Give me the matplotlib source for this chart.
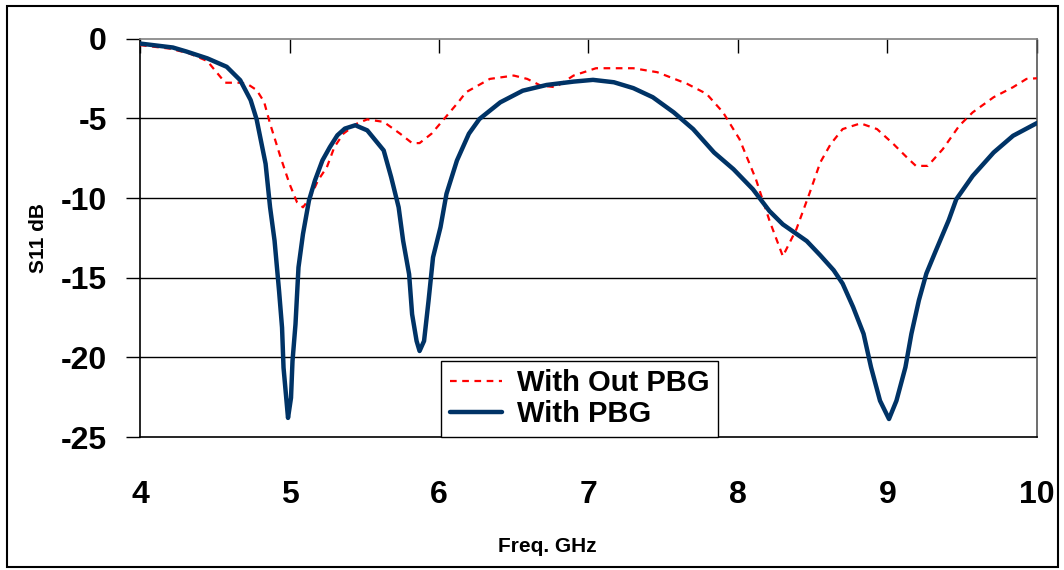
import matplotlib.pyplot as plt
from matplotlib.patches import Rectangle

plt.rcParams['font.family'] = ['Liberation Sans', 'DejaVu Sans']
plt.rcParams['font.weight'] = 'bold'

# With Out PBG (red dashed)
freq_wo = [4.00, 4.20, 4.33, 4.45, 4.57, 4.67, 4.72, 4.78, 4.83, 4.87, 4.94, 5.00,
           5.05, 5.09, 5.14, 5.19, 5.25, 5.30, 5.36, 5.45, 5.52, 5.63, 5.74, 5.82,
           5.87, 5.95, 6.03, 6.13, 6.18, 6.34, 6.50, 6.59, 6.68, 6.78, 6.90, 7.05,
           7.30, 7.46, 7.66, 7.79, 7.90, 8.01, 8.12, 8.21, 8.30, 8.39, 8.48, 8.55,
           8.62, 8.70, 8.82, 8.93, 9.04, 9.13, 9.19, 9.27, 9.37, 9.48, 9.57, 9.71,
           9.84, 9.93, 10.0]
s11_wo = [-0.40, -0.62, -0.92, -1.40, -2.76, -2.76, -2.85, -3.22, -3.96, -5.33, -7.43, -9.11,
          -10.26, -10.58, -9.95, -8.90, -8.06, -6.80, -5.96, -5.33, -5.06, -5.22, -5.96, -6.55,
          -6.55, -5.96, -5.08, -3.97, -3.36, -2.52, -2.31, -2.52, -2.94, -3.04, -2.31, -1.85,
          -1.85, -2.10, -2.83, -3.46, -4.62, -6.3, -8.82, -11.4, -13.65, -11.97, -9.66, -7.77,
          -6.61, -5.67, -5.31, -5.67, -6.61, -7.45, -7.98, -7.98, -6.93, -5.46, -4.62, -3.67,
          -3.04, -2.52, -2.48]

# With PBG (blue solid)
freq_w = [4.00, 4.22, 4.31, 4.45, 4.58, 4.67, 4.74, 4.78, 4.84, 4.87, 4.90, 4.93,
          4.95, 4.96, 4.98, 4.99, 5.01, 5.02, 5.04, 5.06, 5.09, 5.13, 5.17, 5.22,
          5.27, 5.32, 5.37, 5.44, 5.52, 5.63, 5.68, 5.73, 5.76, 5.80, 5.82, 5.85,
          5.87, 5.90, 5.93, 5.96, 6.01, 6.05, 6.12, 6.20, 6.27, 6.41, 6.56, 6.72,
          6.90, 7.03, 7.17, 7.30, 7.43, 7.57, 7.70, 7.84, 7.97, 8.10, 8.21, 8.30,
          8.46, 8.55, 8.64, 8.70, 8.77, 8.84, 8.89, 8.95, 9.01, 9.06, 9.12, 9.16,
          9.21, 9.26, 9.32, 9.41, 9.46, 9.57, 9.71, 9.84, 10.0]
s11_w = [-0.30, -0.55, -0.80, -1.23, -1.76, -2.60, -3.85, -5.06, -7.85, -10.58, -12.68, -15.82,
         -18.13, -20.65, -22.75, -23.80, -22.54, -20.23, -17.92, -14.35, -12.26, -10.16, -8.90, -7.64,
         -6.80, -6.06, -5.64, -5.43, -5.75, -7.01, -8.69, -10.58, -12.68, -14.78, -17.29, -18.97,
         -19.60, -18.97, -16.45, -13.72, -11.83, -9.73, -7.64, -5.96, -5.04, -3.99, -3.26, -2.90,
         -2.69, -2.58, -2.73, -3.10, -3.67, -4.62, -5.67, -7.14, -8.19, -9.45, -10.81, -11.65,
         -12.70, -13.59, -14.53, -15.37, -16.84, -18.52, -20.62, -22.72, -23.87, -22.72, -20.62, -18.52,
         -16.42, -14.74, -13.38, -11.38, -10.08, -8.61, -7.14, -6.09, -5.29]

xticks = [4, 5, 6, 7, 8, 9, 10]
yticks = [0, -5, -10, -15, -20, -25]

fig = plt.figure(figsize=(10.64, 5.70), dpi=100)
ax = fig.add_axes([0.1316, 0.2333, 0.8430, 0.6987])

# horizontal grid lines
for y in yticks[1:-1]:
    ax.axhline(y, color='black', lw=1, zorder=1)

ax.plot(freq_wo, s11_wo, color='#ff0000', lw=1.6, ls=(0, (3, 2.5)), label='With Out PBG', zorder=3)
ax.plot(freq_w, s11_w, color='#003366', lw=3.2, solid_joinstyle='round', solid_capstyle='round',
        label='With PBG', zorder=4)

ax.set_xlim(4, 10)
ax.set_ylim(-25, 0)
ax.set_xticks(xticks)
ax.set_yticks(yticks)
ax.set_xticklabels([str(t) for t in xticks], fontsize=23, fontweight='bold')
ax.set_yticklabels([str(t) for t in yticks], fontsize=23, fontweight='bold')

ax.tick_params(axis='x', bottom=False, top=True, labelbottom=True, labeltop=False,
               direction='in', length=10, width=1, pad=31)
ax.tick_params(axis='y', direction='out', length=10, width=1, pad=14)

ax.spines['top'].set_color('#808080')
ax.spines['right'].set_color('#555555')
ax.spines['left'].set_color('black')
ax.spines['bottom'].set_color('black')
for s in ax.spines.values():
    s.set_linewidth(1.2)

ax.set_ylabel('S11 dB', fontsize=15, fontweight='bold')
ax.yaxis.set_label_coords(-0.103, 0.5)
ax.set_xlabel('Freq. GHz', fontsize=15, fontweight='bold')
ax.xaxis.set_label_coords(0.454, -0.252)

leg = ax.legend(loc='lower left', bbox_to_anchor=(0.3356, 0.0), borderaxespad=0,
                fancybox=False, edgecolor='black', framealpha=1,
                handlelength=1.8, handletextpad=0.5, labelspacing=0.1,
                borderpad=0.3, prop={'weight': 'bold', 'size': 21})
leg.get_frame().set_linewidth(1)
leg.set_zorder(5)

# outer frame of the figure
fig.add_artist(Rectangle((7 / 1064, 3 / 570), 1051 / 1064, 561 / 570, transform=fig.transFigure,
                         fill=False, edgecolor='black', lw=1.5))

fig.savefig('out.png', dpi=100)
